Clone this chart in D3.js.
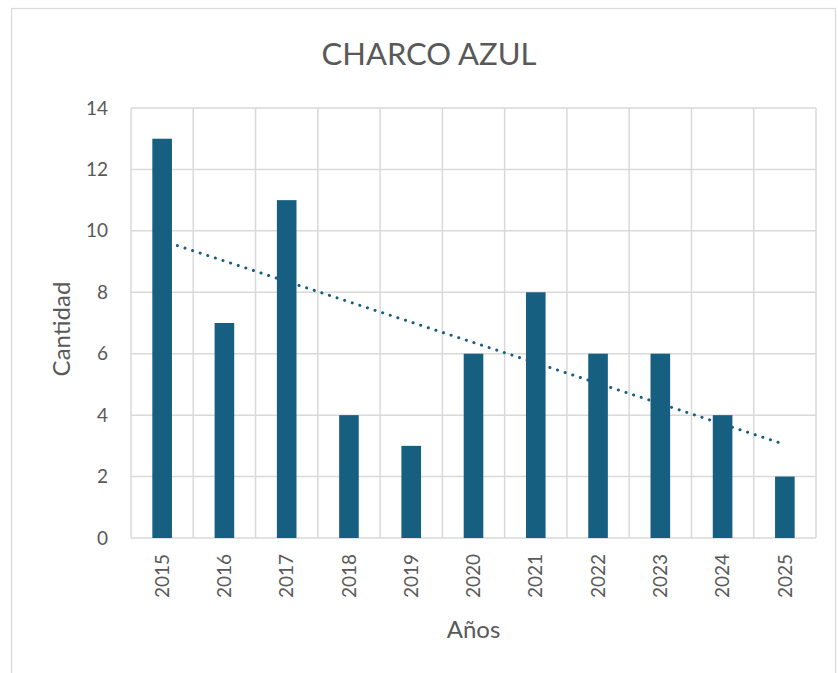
<!DOCTYPE html>
<html>
<head>
<meta charset="utf-8">
<script src="https://cdn.jsdelivr.net/npm/d3@7"></script>
<style>
  body { margin: 0; background: #fff; }
  text { font-family: Lato, "Open Sans", sans-serif; fill: #595959; }
</style>
</head>
<body>
<div id="chart"></div>
<script>
// data
const years = ['2015', '2016', '2017', '2018', '2019', '2020', '2021', '2022', '2023', '2024', '2025'];
const counts = [13, 7, 11, 4, 3, 6, 8, 6, 6, 4, 2];
const yTicks = [0, 2, 4, 6, 8, 10, 12, 14];

const width = 838;
const height = 673;
const margin = { top: 108, right: 22, bottom: 135, left: 131 };
const plotW = width - margin.left - margin.right;
const plotH = height - margin.top - margin.bottom;
const barColor = '#175f80';
const gridColor = '#d9d9d9';

const svg = d3.select('#chart').append('svg')
  .attr('width', width)
  .attr('height', height);

// outer chart border
svg.append('rect')
  .attr('x', 11.5).attr('y', 8.5)
  .attr('width', 824).attr('height', 670)
  .attr('fill', '#fff')
  .attr('stroke', gridColor)
  .attr('stroke-width', 1.2);

const g = svg.append('g')
  .attr('transform', `translate(${margin.left}, ${margin.top})`);

const x = d3.scaleBand().domain(years).range([0, plotW]).padding(0);
const y = d3.scaleLinear().domain([0, 14]).range([plotH, 0]);

// horizontal gridlines
g.selectAll('.hgrid')
  .data(yTicks)
  .enter().append('line')
  .attr('x1', 0).attr('x2', plotW)
  .attr('y1', (d) => y(d)).attr('y2', (d) => y(d))
  .attr('stroke', gridColor)
  .attr('stroke-width', 1.5);

// vertical gridlines on category boundaries
const bounds = years.map((d) => x(d)).concat([plotW]);
g.selectAll('.vgrid')
  .data(bounds)
  .enter().append('line')
  .attr('x1', (d) => d).attr('x2', (d) => d)
  .attr('y1', 0).attr('y2', plotH)
  .attr('stroke', gridColor)
  .attr('stroke-width', 1.5);

// bars
const barW = x.bandwidth() * 0.315;
g.selectAll('.bar')
  .data(years)
  .enter().append('rect')
  .attr('x', (d) => x(d) + x.bandwidth() / 2 - barW / 2)
  .attr('y', (d, i) => y(counts[i]))
  .attr('width', barW)
  .attr('height', (d, i) => plotH - y(counts[i]))
  .attr('fill', barColor);

// linear trendline (least squares on the counts)
const n = counts.length;
const mx = (n + 1) / 2;
const my = d3.mean(counts);
let sxy = 0;
let sxx = 0;
counts.forEach((v, i) => {
  sxy += (i + 1 - mx) * (v - my);
  sxx += (i + 1 - mx) * (i + 1 - mx);
});
const slope = sxy / sxx;
const trend = (k) => my + slope * (k - mx);
g.append('line')
  .attr('x1', x(years[0]) + x.bandwidth() / 2)
  .attr('y1', y(trend(1)))
  .attr('x2', x(years[n - 1]) + x.bandwidth() / 2)
  .attr('y2', y(trend(n)))
  .attr('stroke', barColor)
  .attr('stroke-width', 3)
  .attr('stroke-linecap', 'round')
  .attr('stroke-dasharray', '0.1 7.9');

// y axis labels
const yAxis = d3.axisLeft(y).tickValues(yTicks).tickSize(0).tickPadding(23);
const yG = g.append('g').call(yAxis);
yG.select('.domain').remove();
yG.selectAll('text')
  .style('font-size', '19px')
  .attr('fill', '#595959');

// x axis labels, rotated
const xAxis = d3.axisBottom(x).tickSize(0).tickPadding(0);
const xG = g.append('g')
  .attr('transform', `translate(0, ${plotH})`)
  .call(xAxis);
xG.select('.domain').remove();
xG.selectAll('text')
  .style('font-size', '19px')
  .attr('fill', '#595959')
  .attr('text-anchor', 'end')
  .attr('transform', 'rotate(-90)')
  .attr('x', -16)
  .attr('y', 0)
  .attr('dy', '0.35em');

// title and axis titles
svg.append('text')
  .attr('x', 429).attr('y', 65)
  .attr('text-anchor', 'middle')
  .style('font-size', '31px')
  .text('CHARCO AZUL');

svg.append('text')
  .attr('transform', `translate(70, ${margin.top + plotH / 2 + 6}) rotate(-90)`)
  .attr('text-anchor', 'middle')
  .style('font-size', '24px')
  .text('Cantidad');

svg.append('text')
  .attr('x', margin.left + plotW / 2).attr('y', 638)
  .attr('text-anchor', 'middle')
  .style('font-size', '24px')
  .text('Años');
</script>
</body>
</html>
